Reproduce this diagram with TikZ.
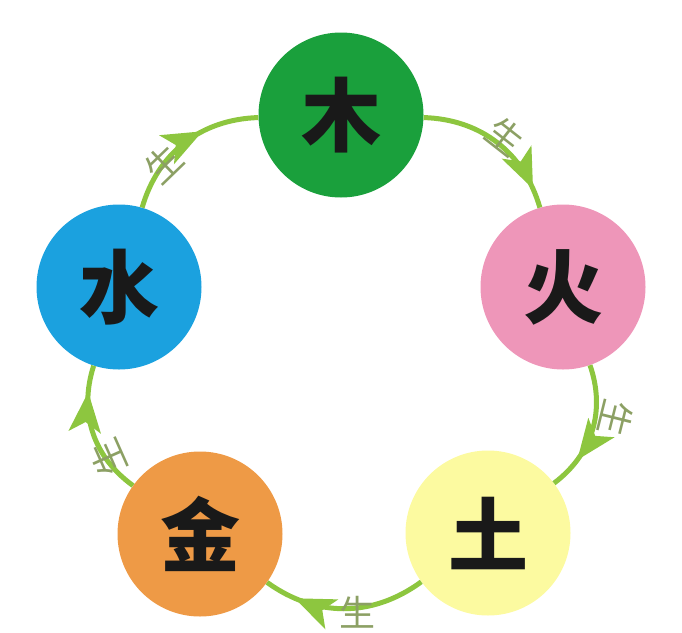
\documentclass[tikz,border=0pt]{standalone}
\usepackage{fontspec}
\newfontfamily\cjk{Noto Sans CJK SC}
\usetikzlibrary{arrows.meta,decorations.markings}
\definecolor{arcgreen}{RGB}{141,198,63}
\definecolor{labgreen}{RGB}{140,160,100}
\definecolor{cmu}{RGB}{26,160,60}
\definecolor{chuo}{RGB}{238,150,185}
\definecolor{ctu}{RGB}{252,250,160}
\definecolor{cjin}{RGB}{238,154,70}
\definecolor{cshui}{RGB}{27,161,223}
\begin{document}
\begin{tikzpicture}[x=1pt,y=1pt,
  elem/.style={circle, minimum size=165pt, inner sep=0pt,
    font=\cjk\bfseries\fontsize{80}{80}\selectfont, text=black!90},
  flow/.style={draw=arcgreen, line width=5pt, bend left=36, postaction={decorate}},
  tipat/.style={decoration={markings, mark=at position -#1pt with
    {\arrow[arcgreen]{Stealth[length=40pt 0 0,width=32pt 0 0,inset=10pt 0 0]}}}},
  lab/.style={font=\cjk\fontsize{36}{36}\selectfont, text=labgreen, inner sep=0pt},
]
\useasboundingbox (0,0) rectangle (682,-632);
\node[elem, fill=cmu]   (mu)   at (341,-115) {木};
\node[elem, fill=chuo]  (huo)  at (563,-287) {火};
\node[elem, fill=ctu]   (tu)   at (488,-533) {土};
\node[elem, fill=cjin]  (jin)  at (200,-534) {金};
\node[elem, fill=cshui] (shui) at (119,-287) {水};
\draw[flow, tipat=20] (mu) to (huo);
\draw[flow, tipat=33] (huo) to (tu);
\draw[flow, tipat=32] (tu) to (jin);
\draw[flow, tipat=27] (jin) to (shui);
\draw[flow, tipat=58] (shui) to (mu);
\node[lab, rotate=-38] (l1) at (505,-136) {生};
\node[lab, rotate=-104] (l2) at (616,-418) {生};
\node[lab] (l3) at (357,-612) {生};
\node[lab, rotate=114] (l4) at (108,-458) {生};
\node[lab, rotate=44] (l5) at (164,-164) {生};
\end{tikzpicture}
\end{document}
